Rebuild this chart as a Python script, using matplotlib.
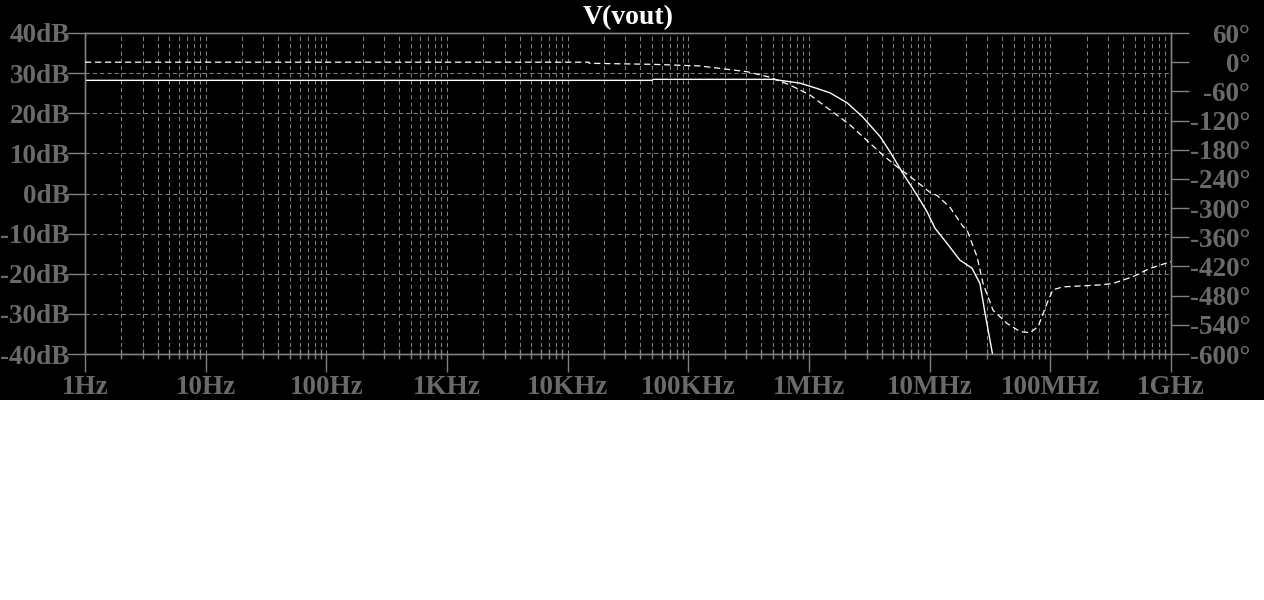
"""Bode plot of V(vout), LTspice style."""

import matplotlib
matplotlib.use('Agg')
import matplotlib.pyplot as plt
from matplotlib.patches import Rectangle
from matplotlib.ticker import LogLocator, NullFormatter, FixedLocator, FixedFormatter

# Magnitude trace (solid)
mag_freq = [1, 5.0e4, 5.1e4, 3.24e5, 5.03e5, 6.09e5, 8.42e5, 1.16e6, 1.49e6, 2.07e6,
            2.80e6, 3.88e6, 4.69e6, 6.01e6, 7.85e6, 9.5e6, 1.11e7, 1.39e7, 1.78e7,
            2.24e7, 2.61e7, 2.88e7, 3.29e7, 3.6e7]
mag_db = [28.2, 28.2, 28.45, 28.45, 28.45, 28.1, 27.5, 26.2, 25.1, 22.6,
          19.0, 14.2, 10.4, 5.0, -0.4, -4.5, -8.7, -12.4, -16.6,
          -18.6, -22.4, -29.9, -39.4, -46.0]

# Phase trace (dashed)
phase_freq = [1, 1.5e4, 1.51e4, 5.1e4, 1.25e5, 3.06e5, 4.75e5, 6.96e5, 1.02e6, 1.49e6,
              2.19e6, 3.21e6, 4.10e6, 5.36e6, 7.85e6, 1.01e7, 1.15e7, 1.47e7, 1.89e7,
              2.04e7, 2.47e7, 2.77e7, 3.35e7, 4.37e7, 5.61e7, 6.78e7, 7.91e7, 9.38e7,
              1.05e8, 1.27e8, 2.58e8, 3.30e8, 4.84e8, 6.70e8, 1e9]
phase_deg = [0, 0, -2.3, -4.4, -7.8, -19.6, -31, -47, -67.5, -98,
             -129, -167, -191, -215, -246, -268, -274, -298, -338,
             -345, -400, -455, -510, -537, -554, -556, -544, -496,
             -468, -462, -458, -455, -441, -424, -410]

# Axis ticks and labels
x_ticks = [1, 10, 100, 1e3, 1e4, 1e5, 1e6, 1e7, 1e8, 1e9]
x_labels = ['1Hz', '10Hz', '100Hz', '1KHz', '10KHz', '100KHz', '1MHz', '10MHz', '100MHz', '1GHz']
db_ticks = [-40, -30, -20, -10, 0, 10, 20, 30, 40]
db_labels = ['-40dB', '-30dB', '-20dB', '-10dB', '0dB', '10dB', '20dB', '30dB', '40dB']
ph_ticks = [-600, -540, -480, -420, -360, -300, -240, -180, -120, -60, 0, 60]
ph_labels = ['-600°', '-540°', '-480°', '-420°', '-360°', '-300°', '-240°', '-180°',
             '-120°', '-60°', '0°', '60°']

LINE = '#808080'
TEXT = '#6a6a6a'
FONT = {'family': 'Liberation Serif', 'weight': 'bold', 'size': 19.5}

fig = plt.figure(figsize=(12.64, 6), dpi=100, facecolor='white')
fig.patches.append(Rectangle((0, 200 / 600), 1, 400 / 600, transform=fig.transFigure,
                             facecolor='black', edgecolor='none', zorder=-10))

ax = fig.add_axes([85 / 1264, 246 / 600, 1086 / 1264, 321 / 600])
ax.set_facecolor('black')
ax2 = ax.twinx()

# Traces
ax.plot(mag_freq, mag_db, color='white', lw=1.0, zorder=5)
ax2.plot(phase_freq, phase_deg, color='white', lw=0.9, linestyle=(0, (5, 3)), zorder=5)

ax.set_xscale('log')
ax.set_xlim(1, 1e9)
ax.set_ylim(-40, 40)
ax2.set_ylim(-600, 60)

# X ticks
ax.xaxis.set_major_locator(FixedLocator(x_ticks))
ax.xaxis.set_major_formatter(FixedFormatter(x_labels))
ax.xaxis.set_minor_locator(LogLocator(base=10, subs=range(2, 10), numticks=20))
ax.xaxis.set_minor_formatter(NullFormatter())
ax.tick_params(axis='x', which='major', direction='out', length=13, width=1,
               color=LINE, labelcolor=TEXT, pad=2)
ax.tick_params(axis='x', which='minor', direction='inout', length=7, width=1, color=LINE)

# Left (dB) ticks
ax.yaxis.set_major_locator(FixedLocator(db_ticks))
ax.yaxis.set_major_formatter(FixedFormatter(db_labels))
ax.tick_params(axis='y', which='major', direction='out', length=13, width=1,
               color=LINE, labelcolor=TEXT, pad=-2)

# Right (phase) ticks
ax2.yaxis.set_major_locator(FixedLocator(ph_ticks))
ax2.yaxis.set_major_formatter(FixedFormatter(ph_labels))
ax2.tick_params(axis='y', which='major', direction='out', length=13, width=1,
                color=LINE, labelcolor=TEXT, pad=44)

for a in (ax, ax2):
    for s in a.spines.values():
        s.set_color(LINE)
        s.set_linewidth(1)
for lbl in ax.get_xticklabels() + ax.get_yticklabels():
    lbl.set_fontfamily(FONT['family'])
    lbl.set_fontweight(FONT['weight'])
    lbl.set_fontsize(FONT['size'])
for lbl in ax2.get_yticklabels():
    lbl.set_fontfamily(FONT['family'])
    lbl.set_fontweight(FONT['weight'])
    lbl.set_fontsize(FONT['size'])
    lbl.set_horizontalalignment('right')

# Grid
ax.grid(True, which='both', axis='x', color=LINE, lw=0.75, linestyle=(0, (4, 3)))
ax.grid(True, which='major', axis='y', color=LINE, lw=0.75, linestyle=(0, (4, 3)))
ax.set_axisbelow(True)

# Title
fig.text(628 / 1264, 1 - 24 / 600, 'V(vout)', color='white', ha='center', va='baseline',
         fontfamily='Liberation Serif', fontweight='bold', fontsize=20)

fig.savefig('out.png', dpi=100, facecolor=fig.get_facecolor())
